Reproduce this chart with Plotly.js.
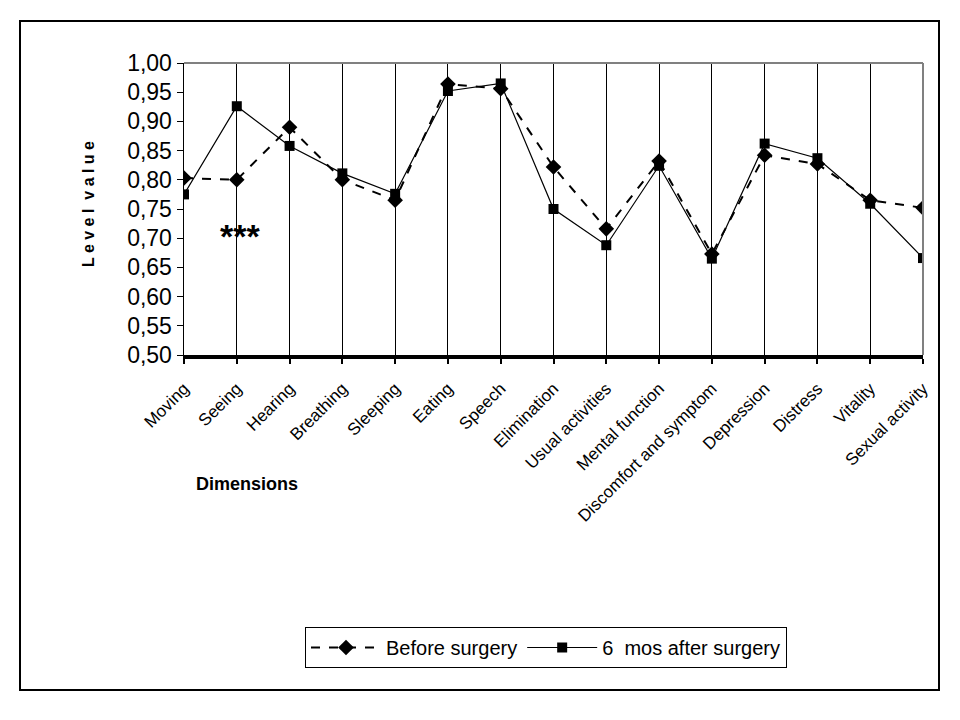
<!DOCTYPE html>
<html>
<head>
<meta charset="utf-8">
<script src="https://cdn.plot.ly/plotly-3.0.1.min.js"></script>
<style>
html,body{margin:0;padding:0;background:#fff;}
#chart{width:960px;height:720px;}
</style>
</head>
<body>
<div id="chart"></div>
<script>
const categories = ["Moving","Seeing","Hearing","Breathing","Sleeping","Eating","Speech","Elimination","Usual activities","Mental function","Discomfort and symptoms","Depression","Distress","Vitality","Sexual activity"];
const tickLabels = ["Moving","Seeing","Hearing","Breathing","Sleeping","Eating","Speech","Elimination","Usual activities","Mental function","Discomfort and symptom","Depression","Distress","Vitality","Sexual activity"];
const beforeSurgery = [0.803,0.800,0.890,0.800,0.765,0.964,0.956,0.822,0.716,0.832,0.673,0.842,0.827,0.765,0.752];
const afterSurgery  = [0.775,0.926,0.858,0.811,0.776,0.952,0.965,0.750,0.688,0.824,0.665,0.862,0.837,0.759,0.666];
const yTicks = [0.50,0.55,0.60,0.65,0.70,0.75,0.80,0.85,0.90,0.95,1.00];

const L=184, R=923, T=63, B=355, W=960, H=720;
const pw=R-L, ph=B-T;
const px = v => (v-L)/pw;
const py = v => (B-v)/ph;

const traces = [
  {x: categories, y: beforeSurgery, name: "Before surgery", type: "scatter", mode: "lines+markers",
   line: {color: "#000", width: 2, dash: "dash"}, marker: {symbol: "diamond", size: 12, color: "#000"}},
  {x: categories, y: afterSurgery, name: "6  mos after surgery", type: "scatter", mode: "lines+markers",
   line: {color: "#000", width: 1.2}, marker: {symbol: "square", size: 10, color: "#000"}}
];

const layout = {
  width: W, height: H,
  margin: {l: L, r: W-R, t: T, b: H-B},
  paper_bgcolor: "#fff", plot_bgcolor: "#fff",
  separators: ", ",
  showlegend: true,
  font: {family: "Arial, 'Liberation Sans', sans-serif", color: "#000"},
  xaxis: {
    type: "category", range: [0, categories.length-1],
    tickmode: "array", tickvals: categories, ticktext: tickLabels,
    tickangle: -45, tickfont: {size: 17, family: "Arial, 'Liberation Sans', sans-serif"},
    ticklabelstandoff: 8,
    showgrid: true, gridcolor: "#000", gridwidth: 1,
    showline: true, linecolor: "#000", linewidth: 4,
    ticks: "outside", ticklen: 5, tickwidth: 2, tickcolor: "#000",
    zeroline: false, fixedrange: true
  },
  yaxis: {
    range: [0.5, 1.0], tickvals: yTicks, tickformat: ".2f",
    tickfont: {size: 23, family: "'Liberation Sans Narrow', 'Arial Narrow', Arial, sans-serif"},
    showgrid: false, showline: true, linecolor: "#000", linewidth: 1.5,
    ticks: "outside", ticklen: 6, tickwidth: 1, tickcolor: "#000",
    zeroline: false, fixedrange: true
  },
  legend: {
    orientation: "h", x: px(305), y: py(627), xanchor: "left", yanchor: "top",
    bordercolor: "#000", borderwidth: 1, bgcolor: "#fff",
    font: {size: 20, family: "'Liberation Sans Narrow', 'Arial Narrow', Arial, sans-serif"},
    itemwidth: 70, tracegroupgap: 0
  },
  shapes: [
    {type: "line", xref: "paper", yref: "paper", x0: 0, x1: 1, y0: 1, y1: 1, line: {color: "#808080", width: 2}},
    {type: "line", xref: "paper", yref: "paper", x0: 1, x1: 1, y0: 0, y1: 1, line: {color: "#808080", width: 2}},
    {type: "rect", xref: "paper", yref: "paper", x0: px(20), x1: px(939), y0: py(690), y1: py(21), line: {color: "#000", width: 2}, layer: "below"}
  ],
  annotations: [
    {text: "<b>Dimensions</b>", xref: "paper", yref: "paper", x: px(247), y: py(484), xanchor: "center", yanchor: "middle", showarrow: false,
     font: {size: 18, family: "'Liberation Sans Narrow', 'Arial Narrow', Arial, sans-serif"}},
    {text: "<b>L e v e l  v a l u e</b>", xref: "paper", yref: "paper", x: px(88), y: py(204), xanchor: "center", yanchor: "middle", showarrow: false, textangle: -90,
     font: {size: 16, family: "Arial, 'Liberation Sans', sans-serif"}},
    {text: "<b>***</b>", xref: "paper", yref: "paper", x: px(240), y: py(236), xanchor: "center", yanchor: "middle", showarrow: false,
     font: {size: 34, family: "Arial, 'Liberation Sans', sans-serif"}}
  ]
};

Plotly.newPlot("chart", traces, layout, {displayModeBar: false, staticPlot: true});
</script>
</body>
</html>
